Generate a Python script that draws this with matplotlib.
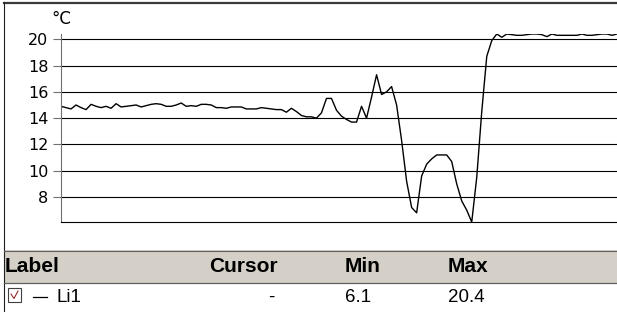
import numpy as np
import matplotlib.pyplot as plt
from matplotlib.patches import Rectangle

# temperature log, one reading per sample step
temps = [
    14.9, 14.8, 14.7, 15.0, 14.8, 14.65, 15.05, 14.9, 14.8, 14.9,
    14.75, 15.1, 14.85, 14.9, 14.95, 15.0, 14.85, 14.95, 15.05, 15.1,
    15.05, 14.9, 14.9, 15.0, 15.15, 14.9, 14.95, 14.9, 15.05, 15.05,
    15.0, 14.8, 14.8, 14.75, 14.85, 14.85, 14.85, 14.7, 14.7, 14.7,
    14.8, 14.75, 14.7, 14.65, 14.65, 14.45, 14.75, 14.5, 14.2, 14.1,
    14.1, 14.0, 14.4, 15.5, 15.5, 14.6, 14.15, 13.9, 13.7, 13.7,
    14.9, 14.0, 15.6, 17.3, 15.8, 16.0, 16.4, 15.0, 12.3, 9.2,
    7.2, 6.8, 9.6, 10.5, 10.9, 11.2, 11.2, 11.2, 10.7, 9.0,
    7.7, 7.0, 6.1, 9.5, 14.5, 18.7, 19.9, 20.4, 20.15, 20.4,
    20.35, 20.3, 20.3, 20.35, 20.4, 20.4, 20.35, 20.2, 20.4, 20.3,
    20.3, 20.3, 20.3, 20.3, 20.4, 20.3, 20.3, 20.35, 20.4, 20.4,
    20.3, 20.4,
]
y_ticks = [8, 10, 12, 14, 16, 18, 20]
unit = "°C"

columns = ["Label", "Cursor", "Min", "Max"]
row = ["Li1", "-", "6.1", "20.4"]

W, H = 617, 312
fig = plt.figure(figsize=(W / 100, H / 100), dpi=100)

# pixel-space overlay for the frame and the table
bg = fig.add_axes([0, 0, 1, 1])
bg.set_xlim(0, W)
bg.set_ylim(H, 0)
bg.axis("off")

bg.plot([4, W], [3, 3], color="#3a3a3a", lw=1.6)
bg.plot([3.5, 3.5], [2, H], color="#202020", lw=0.8)

bg.add_patch(Rectangle((4, 250), W - 4, 33, facecolor="#d4d0c8", edgecolor="none"))
bg.plot([4, W], [250.5, 250.5], color="#606060", lw=0.8)
bg.plot([4, W], [283, 283], color="#606060", lw=0.9)

col_x = [5, 209, 345, 448]
for x, txt in zip(col_x, columns):
    bg.text(x, 267, txt, fontsize=15, fontweight="bold", family="Liberation Sans",
            va="center", ha="left")

# checkbox + line sample
bg.add_patch(Rectangle((8, 288), 13, 14, facecolor="white", edgecolor="#404040", lw=0.8))
bg.plot([11, 14, 18], [294, 298.5, 291], color="#8a1010", lw=0.7)
bg.plot([33, 47], [297, 297], color="black", lw=0.9)
row_x = [56, 268, 345, 448]
for x, txt in zip(row_x, row):
    bg.text(x, 297.5, txt, fontsize=13.5, family="Liberation Sans", va="center", ha="left")

# chart
ax = fig.add_axes([61 / W, 1 - 222 / H, 1 - 61 / W, (222 - 34) / H])
ax.set_facecolor("none")
x = np.arange(len(temps))
ax.plot(x, temps, color="black", lw=1.0)
ax.set_xlim(0, len(temps) - 1)
ax.set_ylim(6.1, 20.4)
ax.set_yticks(y_ticks)
ax.set_xticks([])
for v in y_ticks:
    ax.axhline(v, color="black", lw=0.8, zorder=0)
for s in ["top", "right"]:
    ax.spines[s].set_visible(False)
ax.spines["left"].set_color("#707070")
ax.spines["bottom"].set_color("black")
ax.tick_params(axis="y", length=6, width=0.8, pad=3, labelsize=11.5, color="#707070")
fig.text(61 / W, 1 - 19 / H, unit, fontsize=12, ha="center", va="center")

fig.savefig("out.png", dpi=100)
